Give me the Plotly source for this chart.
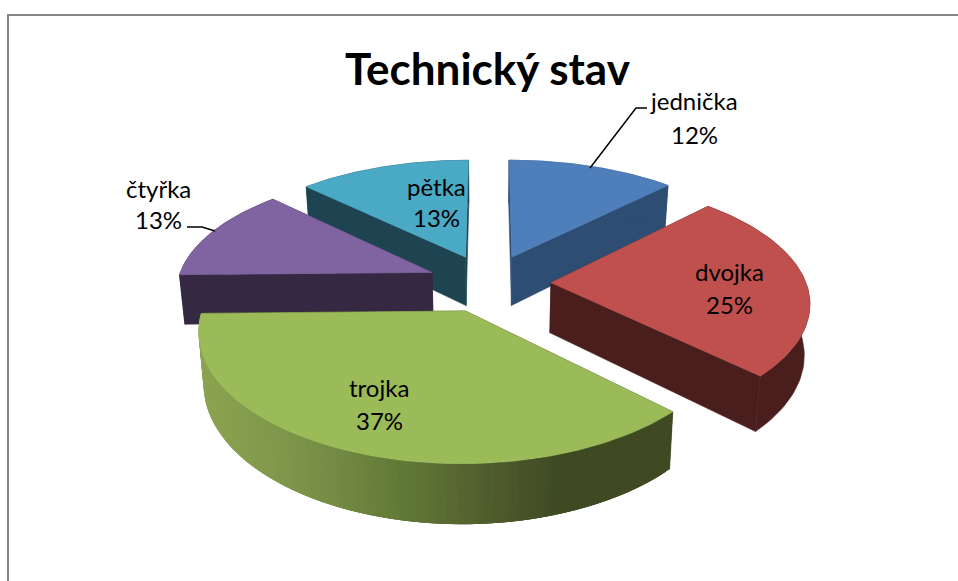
import numpy as np
import plotly.graph_objects as go

categories = ["jednička", "dvojka", "trojka", "čtyřka", "pětka"]
values = [12.4, 24.9, 37.4, 12.6, 12.7]
percent_labels = ["12%", "25%", "37%", "13%", "13%"]
top_colors = ["#4e7fbb", "#c0504d", "#9bbb59", "#8064a2", "#4aa9c4"]
side_colors = ["#2e4d73", "#4b1e1e", "#3f4a23", "#352842", "#1f4451"]
title_text = "Technický stav"

W, H = 958, 581
CX, CY, K, D, DY, R, EXPLODE, DEPTH = 489, 283, 0.468, 1800, 1643, 255, 62, 50
TAPER = 0.00035
DRAW_ORDER = [4, 0, 1, 3, 2]

GRAD_X = [196, 300, 400, 500, 560, 668]
GRAD_RGB = [(140, 165, 82), (124, 148, 73), (98, 122, 56), (78, 90, 44), (63, 74, 35), (63, 74, 35)]


def project(u, v, h=0.0):
    f = D / (D + v)
    fy = DY / (DY + v)
    return CX + u * f * (1 - TAPER * h), CY - K * v * fy + h * f


def ring(start, end, dx, dy, n=60):
    t = np.radians(np.linspace(start, end, n))
    return dx + R * np.sin(t), dy + R * np.cos(t)


def poly(fig, xs, ys, color, lw=0.6):
    fig.add_trace(go.Scatter(
        x=list(xs), y=list(ys), mode="lines", fill="toself", fillcolor=color,
        line=dict(color=color, width=lw), hoverinfo="skip", showlegend=False,
    ))


fig = go.Figure()
cum = np.cumsum([0] + values) / sum(values) * 360

for i in DRAW_ORDER:
    a, b = cum[i], cum[i + 1]
    mid = np.radians((a + b) / 2)
    dx, dy = EXPLODE * np.sin(mid), EXPLODE * np.cos(mid)
    u, v = ring(a, b, dx, dy, 120 if categories[i] == "trojka" else 60)
    ax, ay = project(dx, dy)
    bx, by = project(dx, dy, DEPTH)
    # radial walls
    for k in (0, -1):
        px, py = project(u[k], v[k])
        qx, qy = project(u[k], v[k], DEPTH)
        poly(fig, [ax, px, qx, bx, ax], [ay, py, qy, by, ay], side_colors[i])
    # rim
    tx, ty = project(u, v)
    lx, ly = project(u, v, DEPTH)
    if categories[i] == "trojka":
        n = len(tx)
        for j in range(n - 1):
            e = min(j + 3, n - 1)
            mx = (tx[j] + tx[j + 1]) / 2
            rgb = [np.interp(mx, GRAD_X, [c[m] for c in GRAD_RGB]) for m in range(3)]
            col = "rgb(%d,%d,%d)" % tuple(rgb)
            poly(fig, [tx[j], tx[e], lx[e], lx[j], tx[j]],
                 [ty[j], ty[e], ly[e], ly[j], ty[j]], col, 0)
    else:
        poly(fig, np.r_[tx, lx[::-1], tx[0]], np.r_[ty, ly[::-1], ty[0]], side_colors[i])
    # top
    poly(fig, np.r_[ax, tx, ax], np.r_[ay, ty, ay], top_colors[i])

# leader lines
for lx, ly in ([590, 636, 647], [168, 108, 108]), ([187, 202, 215], [227, 227, 231]):
    fig.add_trace(go.Scatter(x=lx, y=ly, mode="lines", line=dict(color="#000000", width=1.5),
                             hoverinfo="skip", showlegend=False))

# labels: one annotation per line, so the line spacing can follow the reference
label_pos = [(694, 100, 134), (729, 271, 304), (379, 387, 420), (158, 188, 219), (436, 186, 217)]
label_font = dict(family="Lato, sans-serif", size=24, color="#000000")
annotations = []
for c, t, (x, y1, y2) in zip(categories, percent_labels, label_pos):
    annotations.append(dict(x=x, y=y1, text=c, showarrow=False, xref="x", yref="y", font=label_font))
    annotations.append(dict(x=x, y=y2, text=t, showarrow=False, xref="x", yref="y", font=label_font))
annotations.append(dict(x=488, y=68, text=f"<b>{title_text}</b>", showarrow=False, xref="x", yref="y",
                        font=dict(family="Lato, sans-serif", size=44, color="#000000")))

fig.update_layout(
    width=W, height=H, margin=dict(l=0, r=0, t=0, b=0),
    paper_bgcolor="#ffffff", plot_bgcolor="#ffffff", showlegend=False,
    xaxis=dict(range=[0, W], visible=False, fixedrange=True),
    yaxis=dict(range=[H, 0], visible=False, fixedrange=True),
    annotations=annotations,
    shapes=[dict(type="rect", x0=8, y0=15, x1=W + 10, y1=H + 10, xref="x", yref="y",
                 line=dict(color="#868686", width=2), fillcolor="rgba(0,0,0,0)", layer="below")],
)
fig.write_html("out.html", config=dict(displayModeBar=False),
               post_script="document.body.style.margin='0';document.documentElement.style.overflow='hidden';")
